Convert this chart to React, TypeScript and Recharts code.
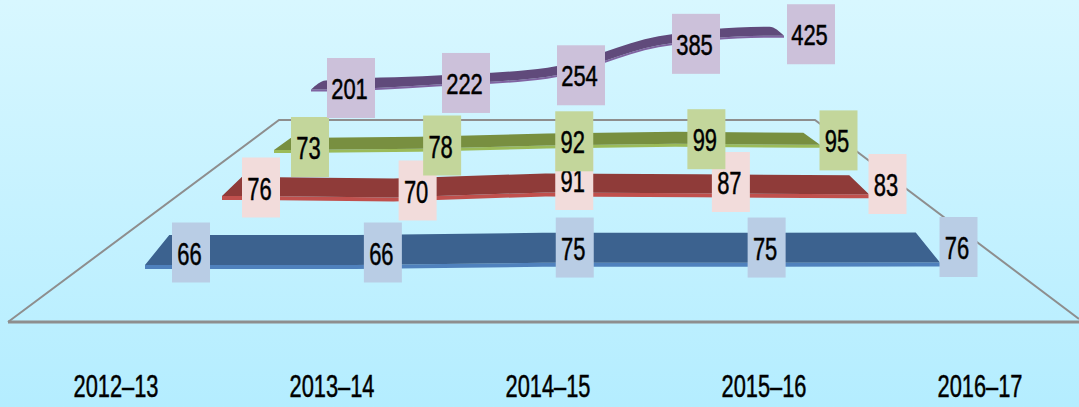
import { Area, ComposedChart, LabelList, Line, XAxis, YAxis } from "recharts";

const categories = ["2012–13", "2013–14", "2014–15", "2015–16", "2016–17"];
const blueValues = [66, 66, 75, 75, 76];
const redValues = [76, 70, 91, 87, 83];
const greenValues = [73, 78, 92, 99, 95];
const purpleValues = [201, 222, 254, 385, 425];

const WIDTH = 1079;
const HEIGHT = 407;
const AXIS_HEIGHT = 36;
const PLOT_HEIGHT = HEIGHT - AXIS_HEIGHT;
const FONT = '"Liberation Sans", sans-serif';

// every ribbon shares the same slope, the labels sit on their own scale
const RIBBON_SCALE = 0.24;
const TIP = 0.13;

const layers = [
  {
    key: "blue",
    values: blueValues,
    curve: "linear",
    dark: "#3c628f",
    front: "#4f81bd",
    box: "#b9cde5",
    ribbonFrom: 145,
    ribbonTo: 940,
    ribbonY: 250,
    thick: 30,
    frontThick: 4,
    labelFrom: 191,
    labelTo: 958.5,
    labelY: 252.5,
    labelScale: 0.55,
    boxWidth: 38,
    labelSize: 32,
  },
  {
    key: "red",
    values: redValues,
    curve: "linear",
    dark: "#8f3b39",
    front: "#c0504d",
    box: "#f2dcdb",
    ribbonFrom: 222,
    ribbonTo: 869,
    ribbonY: 186.5,
    thick: 19,
    frontThick: 4,
    labelFrom: 261,
    labelTo: 887.5,
    labelY: 187.5,
    labelScale: 0.5,
    boxWidth: 38,
    labelSize: 32,
  },
  {
    key: "green",
    values: greenValues,
    curve: "linear",
    dark: "#788f40",
    front: "#9bbb59",
    box: "#c3d69b",
    ribbonFrom: 274,
    ribbonTo: 820,
    ribbonY: 144,
    thick: 12,
    frontThick: 3,
    labelFrom: 310,
    labelTo: 838.5,
    labelY: 147,
    labelScale: 0.3,
    boxWidth: 38,
    labelSize: 32,
  },
  {
    key: "purple",
    values: purpleValues,
    curve: "monotone",
    dark: "#604a7b",
    front: "#8064a2",
    box: "#ccc1da",
    ribbonFrom: 311,
    ribbonTo: 784,
    ribbonY: 85,
    thick: 9,
    frontThick: 2,
    labelFrom: 351,
    labelTo: 811,
    labelY: 88,
    labelScale: 0.24,
    boxWidth: 48,
    labelSize: 29,
  },
];

type Layer = (typeof layers)[number];

const chartData = categories.map((category, i) => ({
  category,
  blue: blueValues[i],
  red: redValues[i],
  green: greenValues[i],
  purple: purpleValues[i],
}));

// y axis domain that puts `value` at pixel `y` with the given px per unit
const domainFor = (value: number, y: number, scale: number): [number, number] => [
  value - (PLOT_HEIGHT - y) / scale,
  value + y / scale,
];

// top face + front face of a ribbon, tapering to the floor at both ends
const ribbonRows = (layer: Layer) => {
  const t = layer.thick / RIBBON_SCALE;
  const f = layer.frontThick / RIBBON_SCALE;
  const { values } = layer;
  const last = values.length - 1;
  const row = (i: number, v: number, h: number) => ({
    i,
    top: [v - t / 2, v - t / 2 + h],
    face: [v - t / 2 - f, v - t / 2],
  });
  return [
    row(-TIP, values[0], 0),
    ...values.map((v, i) => row(i, v, t)),
    row(last + TIP, values[last], 0),
  ];
};

// the original type is condensed, no narrow font is installed so squeeze it
function valueBox(layer: Layer) {
  return (props: any) => {
    const { x, y, value } = props;
    const w = layer.boxWidth;
    return (
      <g>
        <rect x={x - w / 2} y={y - 30} width={w} height={60} fill={layer.box} />
        <text
          x={x - 1.5}
          y={y + 1}
          textAnchor="middle"
          dominantBaseline="central"
          fontFamily={FONT}
          fontSize={layer.labelSize}
          fill="#000"
          stroke="#000"
          strokeWidth={0.5}
          textLength={String(value).length * 12.2}
          lengthAdjust="spacingAndGlyphs"
        >
          {value}
        </text>
      </g>
    );
  };
}

function CategoryTick(props: any) {
  const { x, payload } = props;
  return (
    <text
      x={x}
      y={386}
      textAnchor="middle"
      dominantBaseline="central"
      fontFamily={FONT}
      fontSize={32}
      fill="#000"
      stroke="#000"
      strokeWidth={0.5}
      textLength={85}
      lengthAdjust="spacingAndGlyphs"
    >
      {payload.value}
    </text>
  );
}

export default function App() {
  return (
    <div
      style={{
        position: "absolute",
        left: 0,
        top: 0,
        width: WIDTH,
        height: HEIGHT,
        background: "linear-gradient(180deg, #d8f7ff 0%, #b4edff 100%)",
      }}
    >
      <svg width={WIDTH} height={HEIGHT} style={{ position: "absolute", left: 0, top: 0 }}>
        <polyline
          points="8,322 279,120 815,120 1079,319"
          fill="none"
          stroke="#8e8e8e"
          strokeWidth={2}
        />
        <line x1={8} y1={322} x2={1079} y2={322} stroke="#8e8e8e" strokeWidth={3} />
      </svg>
      <div style={{ position: "absolute", left: 0, top: 0 }}>
        <ComposedChart
          width={WIDTH}
          height={HEIGHT}
          data={chartData}
          margin={{ top: 0, right: 0, bottom: 0, left: 0 }}
        >
          <XAxis
            xAxisId="categories"
            dataKey="category"
            type="category"
            scale="point"
            height={AXIS_HEIGHT}
            padding={{ left: 116, right: WIDTH - 980 }}
            axisLine={false}
            tickLine={false}
            interval={0}
            tick={<CategoryTick />}
          />
          {layers.map((layer) => (
            <XAxis
              key={`rx-${layer.key}`}
              xAxisId={`ribbon-${layer.key}`}
              dataKey="i"
              type="number"
              hide
              domain={[-TIP, layer.values.length - 1 + TIP]}
              padding={{ left: layer.ribbonFrom, right: WIDTH - layer.ribbonTo }}
            />
          ))}
          {layers.map((layer) => (
            <XAxis
              key={`lx-${layer.key}`}
              xAxisId={`label-${layer.key}`}
              dataKey="category"
              type="category"
              scale="point"
              hide
              padding={{ left: layer.labelFrom, right: WIDTH - layer.labelTo }}
            />
          ))}
          {layers.map((layer) => (
            <YAxis
              key={`ry-${layer.key}`}
              yAxisId={`ribbon-${layer.key}`}
              type="number"
              hide
              domain={domainFor(layer.values[0], layer.ribbonY, RIBBON_SCALE)}
            />
          ))}
          {layers.map((layer) => (
            <YAxis
              key={`ly-${layer.key}`}
              yAxisId={`label-${layer.key}`}
              type="number"
              hide
              domain={domainFor(layer.values[0], layer.labelY, layer.labelScale)}
            />
          ))}

          {layers.map((layer) => (
            <Area
              key={`face-${layer.key}`}
              data={ribbonRows(layer)}
              xAxisId={`ribbon-${layer.key}`}
              yAxisId={`ribbon-${layer.key}`}
              dataKey="face"
              type={layer.curve as any}
              fill={layer.front}
              fillOpacity={1}
              stroke="none"
              dot={false}
              activeDot={false}
              isAnimationActive={false}
            />
          ))}
          {layers.map((layer) => (
            <Area
              key={`top-${layer.key}`}
              data={ribbonRows(layer)}
              xAxisId={`ribbon-${layer.key}`}
              yAxisId={`ribbon-${layer.key}`}
              dataKey="top"
              type={layer.curve as any}
              fill={layer.dark}
              fillOpacity={1}
              stroke="none"
              dot={false}
              activeDot={false}
              isAnimationActive={false}
            />
          ))}
          {layers.map((layer) => (
            <Line
              key={`label-${layer.key}`}
              xAxisId={`label-${layer.key}`}
              yAxisId={`label-${layer.key}`}
              dataKey={layer.key}
              stroke="none"
              dot={false}
              activeDot={false}
              isAnimationActive={false}
            >
              <LabelList dataKey={layer.key} content={valueBox(layer)} />
            </Line>
          ))}
        </ComposedChart>
      </div>
    </div>
  );
}
